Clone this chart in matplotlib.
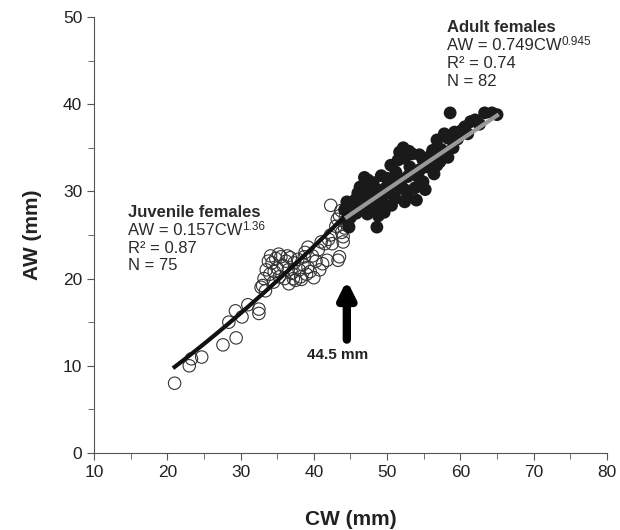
import matplotlib.pyplot as plt
import numpy as np

plt.rcParams['font.family'] = ['Liberation Sans', 'DejaVu Sans']

# juvenile females (open circles)
juv_cw = [21.0, 23.0, 23.3, 24.7, 27.6, 29.4, 28.4, 29.3, 30.2, 31.0,
          32.5, 32.5, 33.0, 33.2, 33.5, 33.8, 34.0, 34.3, 34.5, 34.8,
          35.0, 35.3, 35.5, 35.8, 36.0, 36.2, 36.5, 36.8, 37.0, 37.3,
          37.5, 37.8, 38.0, 38.2, 38.5, 38.7, 39.0, 39.2, 38.3, 40.0,
          39.2, 39.8, 40.3, 40.6, 41.0, 41.5, 41.8, 42.0, 42.3, 42.5,
          43.3, 43.5, 43.0, 43.2, 43.5, 42.3, 43.8, 44.0, 44.2, 43.7,
          44.3, 44.5, 44.0, 40.8, 41.2, 38.8, 36.4, 35.2, 34.1, 33.4,
          36.6, 37.2, 39.5, 34.6, 32.8]
juv_aw = [8.0, 10.0, 10.8, 11.0, 12.4, 13.2, 15.0, 16.3, 15.6, 17.0,
          16.5, 16.0, 19.2, 20.0, 21.0, 22.0, 20.5, 21.8, 19.6, 22.3,
          21.2, 20.2, 22.5, 21.5, 20.0, 22.0, 21.0, 22.4, 20.6, 21.8,
          19.8, 22.2, 21.0, 20.2, 21.6, 22.5, 20.5, 21.3, 19.9, 20.1,
          23.6, 22.6, 22.0, 23.3, 24.2, 24.0, 22.1, 24.5, 25.0, 24.0,
          22.1, 22.5, 26.0, 26.8, 27.2, 28.4, 25.3, 24.8, 25.8, 27.8,
          27.0, 26.2, 24.2, 21.0, 21.7, 23.0, 22.6, 22.8, 22.6, 18.6,
          19.4, 20.0, 20.8, 20.8, 19.0]

# adult females (filled circles)
adu_cw = [58.6, 63.3, 64.3, 65.0, 61.4, 60.2, 59.2, 58.3, 56.8, 56.2,
          58.3, 56.8, 54.9, 54.5, 51.7, 51.5, 52.4, 53.1, 52.8, 54.2,
          54.9, 52.0, 52.4, 52.8, 51.1, 52.4, 47.4, 50.0, 46.3, 48.6,
          46.7, 49.0, 47.7, 49.4, 46.0, 48.1, 44.5, 44.2, 44.5, 44.8,
          48.6, 45.3, 45.8, 46.5, 47.0, 47.9, 48.4, 49.8, 50.3, 50.8,
          51.2, 53.4, 53.8, 54.0, 55.5, 55.2, 56.0, 57.4, 57.8, 59.0,
          59.6, 60.6, 61.0, 62.0, 62.6, 50.5, 51.8, 53.0, 45.6, 46.9,
          49.2, 50.6, 53.6, 56.4, 45.0, 47.3, 48.8, 52.2, 55.8, 57.2,
          54.4, 49.6]
adu_aw = [39.0, 39.0, 39.0, 38.8, 38.0, 37.0, 36.8, 36.1, 35.9, 34.7,
          33.9, 33.0, 33.6, 32.5, 34.5, 33.6, 33.8, 32.8, 31.7, 31.7,
          31.1, 31.3, 30.2, 29.4, 29.2, 28.8, 31.3, 31.5, 30.5, 30.2,
          29.4, 29.2, 28.7, 28.7, 29.8, 31.0, 28.8, 27.9, 26.7, 25.9,
          25.9, 28.2, 27.5, 28.0, 30.0, 29.6, 28.0, 30.4, 29.8, 31.0,
          32.2, 34.3, 30.4, 29.0, 32.8, 30.2, 33.5, 34.8, 36.6, 35.0,
          36.0, 37.4, 36.6, 38.2, 37.7, 33.0, 30.4, 34.6, 29.0, 31.6,
          31.8, 28.4, 32.2, 32.0, 27.0, 27.4, 27.2, 35.0, 34.0, 33.4,
          34.2, 27.6]

# fitted power curves
juv_a, juv_b = 0.157, 1.36
adu_a, adu_b = 0.749, 0.945
maturity_cw = 44.5

fig = plt.figure(figsize=(6.2, 5.3), dpi=100)
ax = fig.add_axes([0.1516, 0.1453, 0.8274, 0.8227])

ax.scatter(juv_cw, juv_aw, s=80, facecolors='none', edgecolors='#333333',
           linewidths=0.8, zorder=2)
ax.scatter(adu_cw, adu_aw, s=85, color='#1a1a1a', edgecolors='none', zorder=3)

xj = np.linspace(min(juv_cw), maturity_cw, 100)
ax.plot(xj, juv_a * xj ** juv_b, color='#111111', lw=3, zorder=4)
xa = np.linspace(maturity_cw, max(adu_cw), 100)
ax.plot(xa, adu_a * xa ** adu_b, color='#999999', lw=3, zorder=4)

ax.annotate('', xy=(maturity_cw, 19.8), xytext=(maturity_cw, 13.0),
            arrowprops=dict(arrowstyle='-|>', color='black', lw=6,
                            mutation_scale=24, shrinkA=0, shrinkB=0))
ax.text(43.3, 11.2, '44.5 mm', fontsize=11, fontweight='bold',
        ha='center', va='center', color='#222222')

tc = '#2a2a2a'


def label_block(x, y0, title, eq, exp, r2, n):
    ax.text(x, y0, title, fontsize=12, fontweight='bold', va='center', color=tc)
    t = ax.text(x, y0 - 2.05, eq, fontsize=12, va='center', color=tc)
    ax.annotate(exp, xy=(1.0, 0.72), xycoords=t, fontsize=8.5, color=tc,
                va='center', ha='left')
    ax.text(x, y0 - 4.1, r2, fontsize=12, va='center', color=tc)
    ax.text(x, y0 - 6.15, n, fontsize=12, va='center', color=tc)


label_block(14.6, 27.6, 'Juvenile females', 'AW = 0.157CW', '1.36',
            'R² = 0.87', 'N = 75')
label_block(58.2, 48.8, 'Adult females', 'AW = 0.749CW', '0.945',
            'R² = 0.74', 'N = 82')

ax.set_xlim(10, 80)
ax.set_ylim(0, 50)
ax.set_xticks(range(10, 81, 10))
ax.set_xticks(range(15, 80, 10), minor=True)
ax.set_yticks(range(0, 51, 10))
ax.set_yticks(range(5, 50, 10), minor=True)
for s in ['top', 'right']:
    ax.spines[s].set_visible(False)
for s in ['left', 'bottom']:
    ax.spines[s].set_color('#555555')
ax.tick_params(which='both', colors='#555555', labelcolor='#222222', labelsize=12.5)
ax.tick_params(which='major', length=5)
ax.tick_params(which='minor', length=4)
ax.set_xlabel('CW (mm)', fontsize=15, fontweight='bold', color='#222222', labelpad=22)
ax.set_ylabel('AW (mm)', fontsize=15, fontweight='bold', color='#222222', labelpad=15)

fig.savefig('out.png', dpi=100)
